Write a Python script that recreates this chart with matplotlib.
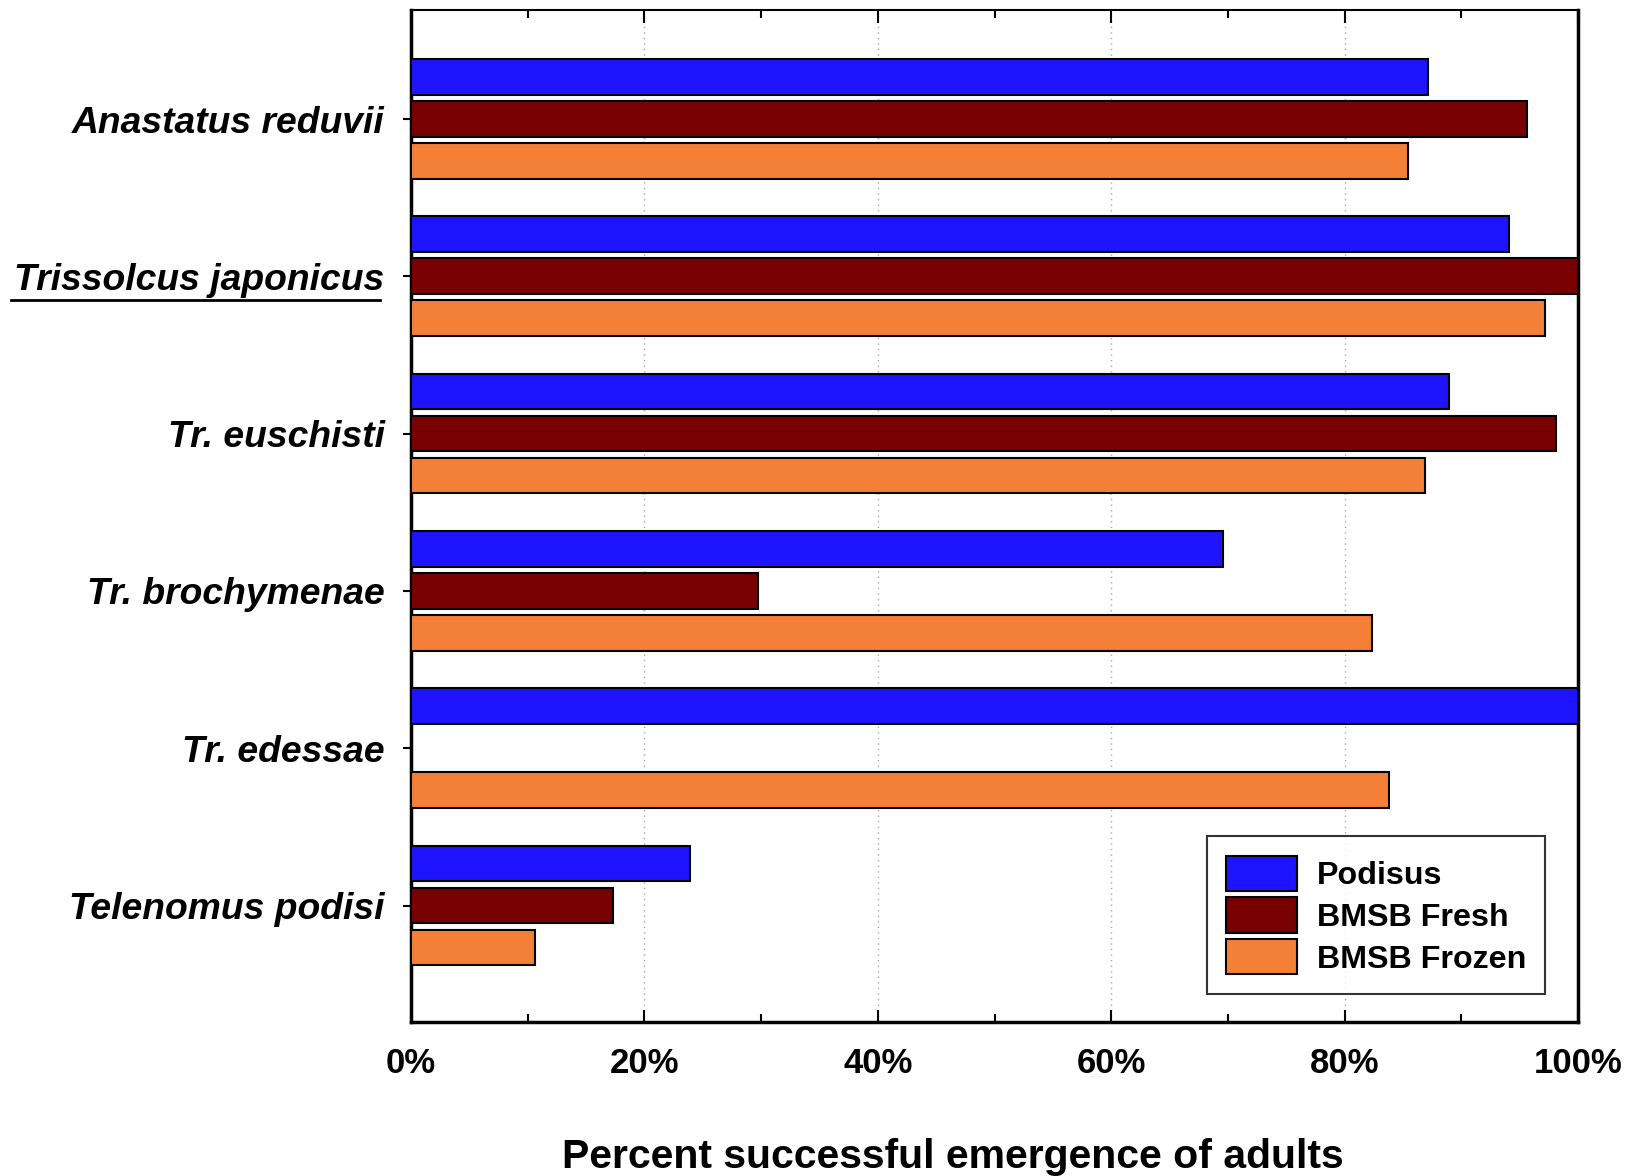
import numpy as np
import matplotlib
matplotlib.use('Agg')
from matplotlib import pyplot as plt
from matplotlib.lines import Line2D
from matplotlib.ticker import MultipleLocator, PercentFormatter

species = ['Anastatus reduvii', 'Trissolcus japonicus', 'Tr. euschisti',
           'Tr. brochymenae', 'Tr. edessae', 'Telenomus podisi']
podisus = [87.1, 94.1, 88.9, 69.6, 100.0, 23.9]
bmsb_fresh = [95.6, 100.0, 98.1, 29.7, 0.0, 17.3]
bmsb_frozen = [85.4, 97.2, 86.9, 82.3, 83.8, 10.6]
series = ['Podisus', 'BMSB Fresh', 'BMSB Frozen']
colors = ['#1e14ff', '#780000', '#f48038']

plt.rcParams['font.family'] = ['Liberation Sans', 'DejaVu Sans']

fig = plt.figure(figsize=(16.44, 11.76), dpi=100)
ax = fig.add_axes([0.25, 0.131, 0.7099, 0.8605])

y = np.arange(len(species))
slot = 0.267
height = 0.227
for i, (vals, name, c) in enumerate(zip([podisus, bmsb_fresh, bmsb_frozen], series, colors)):
    ax.barh(y + (i - 1) * slot, vals, height=height, color=c, edgecolor='black',
            linewidth=1.5, label=name, zorder=3)

ax.set_xlim(0, 100)
ax.set_ylim(5.74, -0.693)
ax.xaxis.set_major_locator(MultipleLocator(20))
ax.xaxis.set_minor_locator(MultipleLocator(10))
ax.xaxis.set_major_formatter(PercentFormatter(decimals=0))
ax.grid(axis='x', which='major', linestyle=(0, (1, 3)), color='#aaaaaa', linewidth=1, zorder=0)

ax.tick_params(axis='x', which='major', direction='in', length=9, width=1.5, top=True,
               labelsize=25, pad=18)
ax.tick_params(axis='x', which='minor', direction='in', length=6, width=1.5, top=True)
for lab in ax.get_xticklabels():
    lab.set_fontweight('bold')

ax.set_yticks(y)
ax.set_yticklabels(species, fontsize=26.8, fontweight='bold', fontstyle='italic')
ax.tick_params(axis='y', direction='out', length=6, width=1.5, pad=13)

for side in ['left', 'bottom', 'right']:
    ax.spines[side].set_linewidth(2.5)
ax.spines['top'].set_linewidth(1.5)

ax.set_xlabel('Percent successful emergence of adults', fontsize=29.5, fontweight='bold')
ax.xaxis.set_label_coords(0.4645, -0.115)

leg = ax.legend(loc='lower right', bbox_to_anchor=(0.972, 0.0277),
                prop={'size': 23.2, 'weight': 'bold'},
                frameon=True, fancybox=False, edgecolor='black', handlelength=2.2,
                handleheight=1.3, labelspacing=0.2, borderpad=0.6, handletextpad=0.6,
                borderaxespad=0)
leg.get_frame().set_linewidth(1.5)
leg.set_zorder(5)

# underline the second species name
fig.canvas.draw()
r = fig.canvas.get_renderer()
bb = ax.get_yticklabels()[1].get_window_extent(r)
fw, fh = fig.bbox.width, fig.bbox.height
uy = (bb.y0 - 2) / fh
fig.add_artist(Line2D([(bb.x0 - 3) / fw, (bb.x1 - 5) / fw], [uy, uy],
                      color='black', linewidth=2, transform=fig.transFigure))

fig.savefig('out.png', dpi=100)
